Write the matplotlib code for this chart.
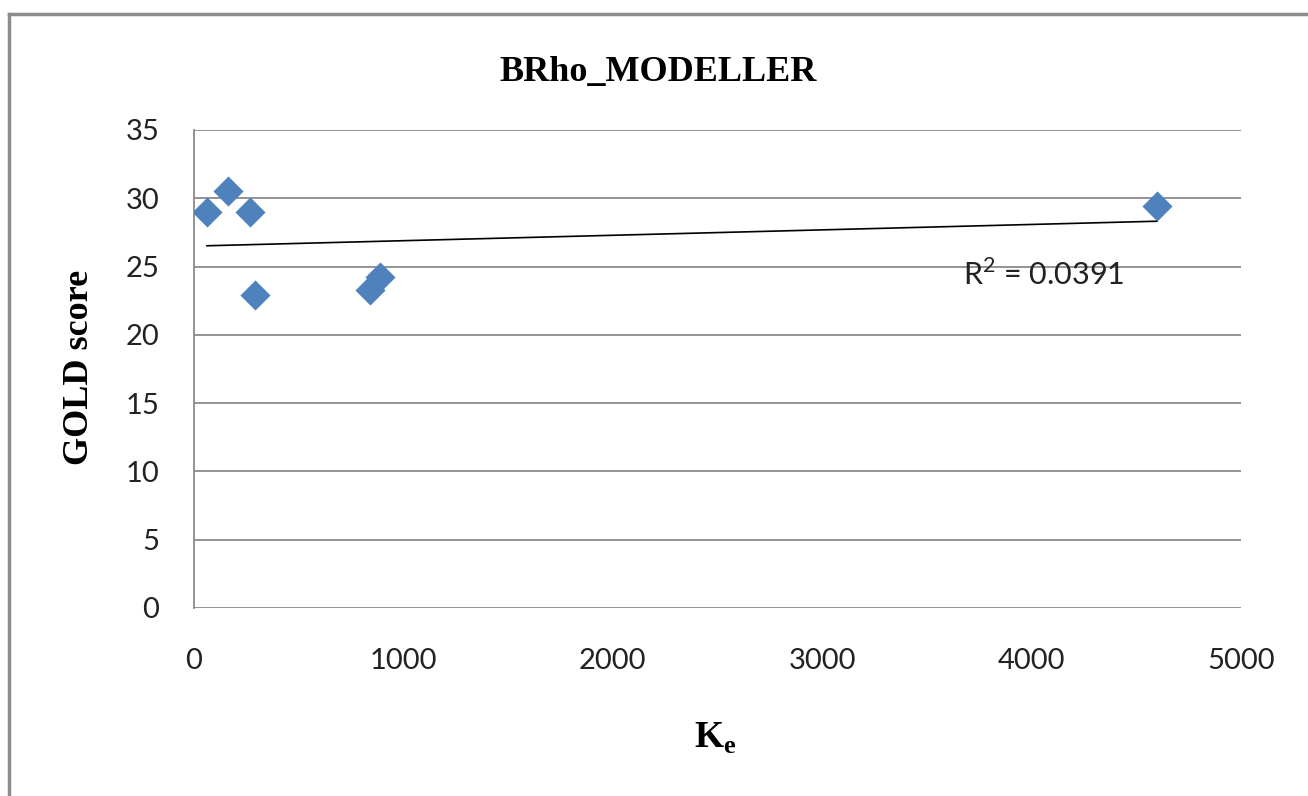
import numpy as np
import matplotlib.pyplot as plt
from matplotlib.lines import Line2D

# data
ke = [62, 162, 267, 291, 840, 888, 4599]
gold = [29.0, 30.5, 29.0, 22.9, 23.3, 24.2, 29.4]
xticks = [0, 1000, 2000, 3000, 4000, 5000]
yticks = [0, 5, 10, 15, 20, 25, 30, 35]

fig = plt.figure(figsize=(13.08, 7.96), dpi=100)
ax = fig.add_axes([0.1483, 0.2362, 0.8005, 0.6005])

# outer chart frame (left and top only visible)
fig.add_artist(Line2D([0.0065, 0.0065], [0, 0.983], color='#8c8c8c', lw=2.5))
fig.add_artist(Line2D([0.0065, 1.0], [0.983, 0.983], color='#8c8c8c', lw=2.5))

ax.scatter(ke, gold, marker='D', s=235, color='#4F81BD', zorder=3, linewidths=0)

# linear trendline
k, b = np.polyfit(ke, gold, 1)
xs = np.array([min(ke), max(ke)])
ax.plot(xs, k * xs + b, color='black', lw=1.2, zorder=2)

ax.set_xlim(0, 5000)
ax.set_ylim(0, 35)
ax.set_xticks(xticks)
ax.set_yticks(yticks)
ax.grid(axis='y', color='#8a8a8a', lw=1.3)
ax.set_axisbelow(True)
for s in ['top', 'right', 'bottom']:
    ax.spines[s].set_visible(False)
ax.spines['left'].set_color('#8a8a8a')
ax.spines['left'].set_linewidth(1.3)
ax.tick_params(axis='both', length=0, labelsize=21, labelcolor='#222222')
ax.tick_params(axis='x', pad=29)
ax.tick_params(axis='y', pad=25)
for lbl in ax.get_xticklabels() + ax.get_yticklabels():
    lbl.set_fontfamily('Lato')

fig.text(0.503, 0.9095, 'BRho_MODELLER', fontfamily='Liberation Serif',
         fontweight='bold', fontsize=26, ha='center', va='center')
fig.text(0.061, 0.539, 'GOLD score', fontfamily='Liberation Serif',
         fontweight='bold', fontsize=26, rotation=90, ha='center', va='center')
fig.text(0.547, 0.073, 'K$_\\mathregular{e}$', fontfamily='Liberation Serif',
         fontweight='bold', fontsize=27, ha='center', va='center')

ax.text(3672, 24.4, 'R$^\\mathregular{2}$ = 0.0391', fontfamily='Lato', fontsize=22,
        color='#222222', va='center')

fig.savefig('out.png', dpi=100)
